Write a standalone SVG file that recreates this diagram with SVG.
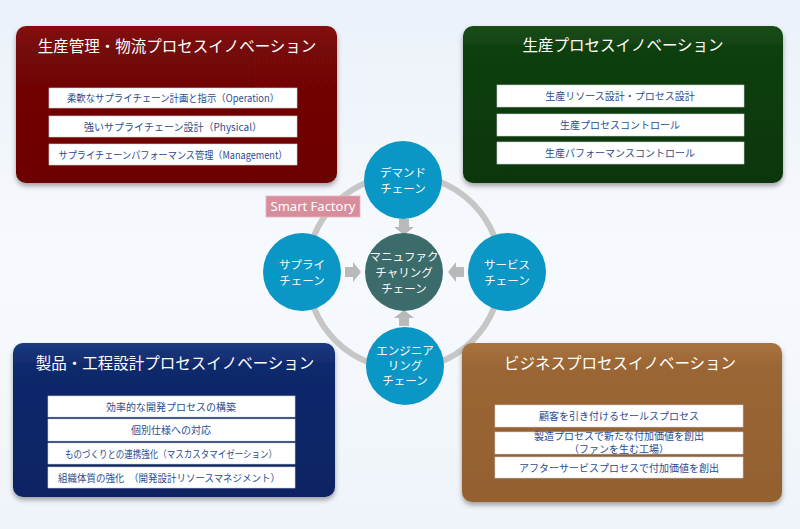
<svg xmlns="http://www.w3.org/2000/svg" width="800" height="529" viewBox="0 0 800 529">
<defs>
<linearGradient id="bg" x1="0" y1="0" x2="0" y2="1"><stop offset="0" stop-color="#ebf1f9"/><stop offset="0.5" stop-color="#f7fafd"/><stop offset="1" stop-color="#eff4fa"/></linearGradient>
<linearGradient id="gRed" x1="0" y1="0" x2="0" y2="1"><stop offset="0" stop-color="#861010"/><stop offset="0.15" stop-color="#750707"/><stop offset="1" stop-color="#6c0404"/></linearGradient>
<linearGradient id="gGreen" x1="0" y1="0" x2="0" y2="1"><stop offset="0" stop-color="#1a4d1a"/><stop offset="0.15" stop-color="#0f3f0f"/><stop offset="1" stop-color="#0b360b"/></linearGradient>
<linearGradient id="gBlue" x1="0" y1="0" x2="0" y2="1"><stop offset="0" stop-color="#1c3a80"/><stop offset="0.15" stop-color="#10296c"/><stop offset="1" stop-color="#0c2462"/></linearGradient>
<linearGradient id="gBrown" x1="0" y1="0" x2="0" y2="1"><stop offset="0" stop-color="#a8733e"/><stop offset="0.15" stop-color="#9b6634"/><stop offset="1" stop-color="#93602f"/></linearGradient>
<filter id="sh" x="-5%" y="-5%" width="110%" height="115%"><feDropShadow dx="0" dy="3" stdDeviation="2.5" flood-color="#000" flood-opacity="0.35"/></filter>
<path id="arr" d="M-5,-8 H5 V0 H10 L0,8 L-10,0 H-5 Z"/>
</defs>
<style>
.panel{filter:url(#sh)}
.title{font-family:"Noto Sans CJK JP",sans-serif;font-size:15.5px;fill:#fff;text-anchor:middle}
.item{fill:#fff;stroke:#d0d4da;stroke-width:0.6}
.it{font-family:"Noto Sans CJK JP",sans-serif;font-size:10px;fill:#2b4c8f;text-anchor:middle}
.c{fill:#0a97c5}
.ct{font-family:"Noto Sans CJK JP",sans-serif;font-size:11.5px;fill:#fff;text-anchor:middle}
.ar{fill:#b9b9b9}
</style>
<rect width="800" height="529" fill="url(#bg)"/>

<g id="ring"><circle cx="404" cy="272" r="97" fill="none" stroke="#c6c6c6" stroke-width="6"/></g>

<g id="panel-red">
<rect class="panel" x="16" y="26" width="321" height="157" rx="10" fill="url(#gRed)"/>
<text class="title" x="177" y="52">生産管理・物流プロセスイノベーション</text>
<rect class="item" x="49" y="88" width="248" height="20"/>
<text class="it" x="173" y="102" textLength="212" lengthAdjust="spacingAndGlyphs">柔軟なサプライチェーン計画と指示（Operation）</text>
<rect class="item" x="49" y="116" width="248" height="21"/>
<text class="it" x="173" y="130.5">強いサプライチェーン設計（Physical）</text>
<rect class="item" x="49" y="144" width="248" height="21"/>
<text class="it" x="173" y="158.5" textLength="229" lengthAdjust="spacingAndGlyphs">サプライチェーンパフォーマンス管理（Management）</text>
</g>

<g id="panel-green">
<rect class="panel" x="463" y="26" width="320" height="157" rx="10" fill="url(#gGreen)"/>
<text class="title" x="623" y="51">生産プロセスイノベーション</text>
<rect class="item" x="497" y="85" width="247" height="22"/>
<text class="it" x="620" y="100">生産リソース設計・プロセス設計</text>
<rect class="item" x="497" y="114" width="247" height="22"/>
<text class="it" x="620" y="129">生産プロセスコントロール</text>
<rect class="item" x="497" y="142" width="247" height="22"/>
<text class="it" x="620" y="157">生産パフォーマンスコントロール</text>
</g>

<g id="panel-blue">
<rect class="panel" x="13" y="343" width="322" height="154" rx="10" fill="url(#gBlue)"/>
<text class="title" x="175" y="369">製品・工程設計プロセスイノベーション</text>
<rect class="item" x="48" y="396" width="247" height="21"/>
<text class="it" x="171" y="410.5">効率的な開発プロセスの構築</text>
<rect class="item" x="48" y="419" width="247" height="22"/>
<text class="it" x="171" y="434">個別仕様への対応</text>
<rect class="item" x="48" y="443" width="247" height="21"/>
<text class="it" x="171" y="457.5" textLength="212" lengthAdjust="spacingAndGlyphs">ものづくりとの連携強化（マスカスタマイゼーション）</text>
<rect class="item" x="48" y="467" width="247" height="21"/>
<text class="it" x="169" y="481.5" textLength="222" lengthAdjust="spacingAndGlyphs">組織体質の強化　（開発設計リソースマネジメント）</text>
</g>

<g id="panel-brown">
<rect class="panel" x="462" y="343" width="320" height="159" rx="10" fill="url(#gBrown)"/>
<text class="title" x="620" y="369">ビジネスプロセスイノベーション</text>
<rect class="item" x="495" y="405" width="248" height="22"/>
<text class="it" x="619" y="420">顧客を引き付けるセールスプロセス</text>
<rect class="item" x="495" y="432" width="248" height="22"/>
<text class="it" x="619" y="439.5" font-size="9.5">製造プロセスで新たな付加価値を創出</text>
<text class="it" x="619" y="453" font-size="9.5">（ファンを生む工場）</text>
<rect class="item" x="495" y="457" width="248" height="21"/>
<text class="it" x="619" y="471.5">アフターサービスプロセスで付加価値を創出</text>
</g>

<g id="connectors">
<use href="#arr" class="ar" transform="translate(404,227)"/>
<use href="#arr" class="ar" transform="translate(353,272) rotate(-90)"/>
<use href="#arr" class="ar" transform="translate(456,272) rotate(90)"/>
<use href="#arr" class="ar" transform="translate(404,318) rotate(180)"/>
</g>

<g id="demand">
<circle class="c" cx="403" cy="180" r="39"/>
<text class="ct" x="403" y="177">デマンド</text>
<text class="ct" x="403" y="193">チェーン</text>
</g>
<g id="supply">
<circle class="c" cx="302" cy="272" r="39"/>
<text class="ct" x="302" y="269">サプライ</text>
<text class="ct" x="302" y="285">チェーン</text>
</g>
<g id="service">
<circle class="c" cx="507" cy="272" r="39"/>
<text class="ct" x="507" y="269">サービス</text>
<text class="ct" x="507" y="285">チェーン</text>
</g>
<g id="engineering">
<circle class="c" cx="405" cy="366" r="39"/>
<text class="ct" x="405" y="355">エンジニア</text>
<text class="ct" x="405" y="370">リング</text>
<text class="ct" x="405" y="385">チェーン</text>
</g>
<g id="manufacturing">
<circle cx="404" cy="272" r="39" fill="#3b6b6a"/>
<text class="ct" x="404" y="261">マニュファク</text>
<text class="ct" x="404" y="277">チャリング</text>
<text class="ct" x="404" y="293">チェーン</text>
</g>

<g id="smart-factory">
<rect x="266" y="196" width="94" height="21" fill="#d88d9c" stroke="#e8b5bf" stroke-width="0.8"/>
<text x="313" y="211" font-family="Noto Sans, sans-serif" font-size="13" fill="#fff" text-anchor="middle">Smart Factory</text>
</g>
</svg>
